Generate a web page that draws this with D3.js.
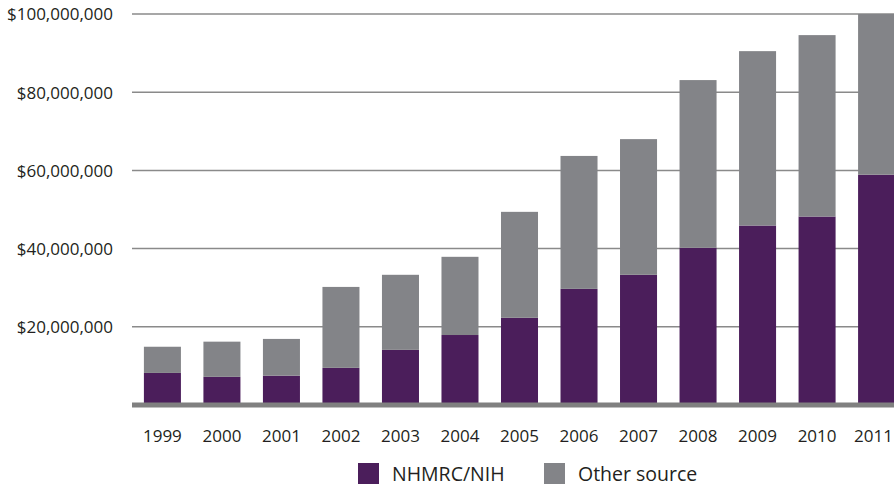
<!DOCTYPE html>
<html><head><meta charset="utf-8">
<script src="https://cdn.jsdelivr.net/npm/d3@7"></script>
<style>body{margin:0;background:#fff}svg{display:block}text{font-family:"Open Sans",sans-serif;fill:#231f20}</style>
</head><body><svg id="c" width="894" height="488"></svg>
<script>
const years = ["1999","2000","2001","2002","2003","2004","2005","2006","2007","2008","2009","2010","2011"];
const nhmrc = [8.2, 7.2, 7.5, 9.5, 14.1, 17.9, 22.3, 29.7, 33.3, 40.2, 45.9, 48.2, 58.9].map(v=>v*1e6);
const totals = [14.9, 16.2, 16.9, 30.2, 33.3, 37.9, 49.4, 63.7, 68.0, 83.1, 90.5, 94.6, 100].map(v=>v*1e6);
const other = totals.map((t,i)=>t-nhmrc[i]);
const yTicks = [20e6, 40e6, 60e6, 80e6, 100e6];
const seriesNames = ["NHMRC/NIH","Other source"];
const colors = ["#4b1e5b","#838488"];

const svg = d3.select("#c");
const x = d3.scaleBand().domain(years).range([132, 907]).paddingInner(0.378).paddingOuter(0.2);
const y = d3.scaleLinear().domain([0, 100e6]).range([405, 14]);

// gridlines
svg.append("g").selectAll("line").data(yTicks).join("line")
  .attr("x1",132).attr("x2",894).attr("y1",d=>y(d)).attr("y2",d=>y(d))
  .attr("stroke","#8a8a8a").attr("stroke-width",1.5);

const fmt = d3.format("$,");
svg.append("g").selectAll("text").data(yTicks).join("text")
  .attr("x",113).attr("y",d=>y(d)).attr("dy","0.38em").attr("text-anchor","end")
  .attr("font-size",17).text(d=>fmt(d));

const data = years.map((yr,i)=>({yr, a:nhmrc[i], b:other[i]}));
const stack = d3.stack().keys(["a","b"])(data);
svg.append("g").selectAll("g").data(stack).join("g").attr("fill",(d,i)=>colors[i])
  .selectAll("rect").data(d=>d).join("rect")
  .attr("x",d=>x(d.data.yr)).attr("width",x.bandwidth())
  .attr("y",d=>y(d[1])).attr("height",d=>y(d[0])-y(d[1]));

// baseline
svg.append("line").attr("x1",132).attr("x2",894).attr("y1",y(0)).attr("y2",y(0))
  .attr("stroke","#808080").attr("stroke-width",5);

// x labels
svg.append("g").selectAll("text").data(years).join("text")
  .attr("y",442).attr("text-anchor","middle")
  .attr("font-size",17).text(d=>d)
  .attr("x",function(d){
    const c = x(d)+x.bandwidth()/2;
    const hw = this.getComputedTextLength()/2;
    return Math.min(c, 893 - hw);
  });

// legend
const lx = [358, 544];
const lg = svg.append("g").selectAll("g").data(seriesNames).join("g")
  .attr("transform",(d,i)=>`translate(${lx[i]},463)`);
lg.append("rect").attr("width",21).attr("height",21).attr("fill",(d,i)=>colors[i]);
lg.append("text").attr("x",34).attr("y",18).attr("font-size",19.5).text(d=>d);
</script></body></html>
